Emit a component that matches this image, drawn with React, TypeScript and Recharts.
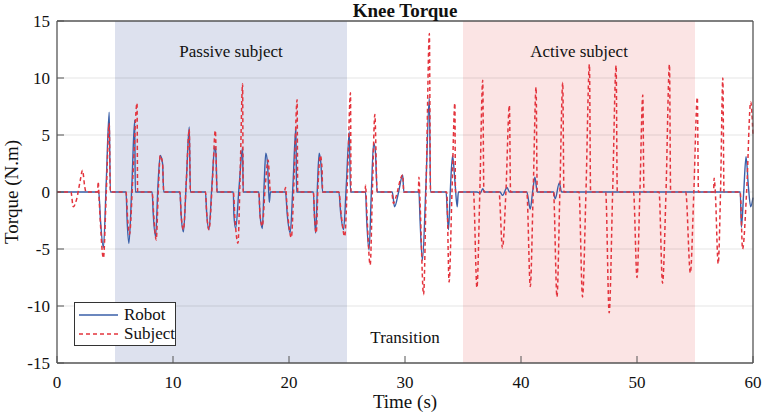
import React from 'react';
import { LineChart, Line, XAxis, YAxis, ReferenceArea, ReferenceLine, Legend } from 'recharts';

const FONT = '"Liberation Serif", "Times New Roman", serif';

const X_TICKS = [0, 10, 20, 30, 40, 50, 60];
const Y_TICKS = [-15, -10, -5, 0, 5, 10, 15];
const GRID_Y = [-10, -5, 0, 5, 10];

const PHASES = [
  { x1: 5, x2: 25, label: 'Passive subject', fill: '#dde1ee', where: 'insideTop' },
  { x1: 25, x2: 35, label: 'Transition', fill: 'none', where: 'insideBottom' },
  { x1: 35, x2: 55, label: 'Active subject', fill: '#fbe4e4', where: 'insideTop' },
];

// [time (s), torque (N.m)]
const ROBOT: [number, number][] = [
  [0, 0], [3.6, 0], [3.75, -2.5], [4.0, -4.9], [4.25, 1], [4.5, 7.0], [4.6, 0],
  [5.95, 0], [6.05, -2.6], [6.2, -4.5], [6.45, 0.5], [6.7, 6.3], [6.75, 0],
  [8.2, 0], [8.3, -2], [8.5, -3.9], [8.7, 0.5], [8.9, 3.2], [9.1, 2.5], [9.2, 0],
  [10.6, 0], [10.7, -2], [10.9, -3.5], [11.15, 1], [11.4, 5.7], [11.5, 0],
  [12.8, 0], [12.9, -1.8], [13.1, -3.3], [13.35, 0.5], [13.6, 4.0], [13.7, 3.4], [13.8, 0],
  [15.2, 0], [15.25, -2], [15.4, -3.2], [15.7, 0.5], [16.0, 3.9], [16.05, 0],
  [17.4, 0], [17.5, -2], [17.7, -3.2], [17.85, 0.5], [18.0, 3.4], [18.15, 2.5], [18.3, -0.9], [18.4, 0],
  [19.7, 0], [19.85, -2], [20.1, -3.6], [20.35, 0.8], [20.6, 5.7], [20.65, 0],
  [22.1, 0], [22.2, -2.2], [22.3, -3.6], [22.45, 0.5], [22.6, 3.4], [22.75, 2.5], [22.9, 0],
  [24.3, 0], [24.45, -1.8], [24.7, -3.3], [24.95, 0.8], [25.2, 5.3], [25.3, 0],
  [26.6, 0], [26.7, -2.5], [26.9, -5.1], [27.1, 0], [27.3, 4.3], [27.45, 3.5], [27.6, 0],
  [28.9, 0], [29.1, -1.3], [29.45, 0], [29.8, 1.5], [29.9, 0],
  [31.2, 0], [31.3, -2.5], [31.5, -6.0], [31.8, 0.5], [32.1, 8.3], [32.2, 0],
  [33.55, 0], [33.65, -2], [33.75, -3.3], [33.9, 0], [34.1, 3.2], [34.3, 1.0], [34.5, -1.3], [34.6, 0],
  [36.2, 0], [36.5, -0.1], [36.7, 0.3], [36.85, 0],
  [38.2, 0], [38.4, -0.3], [38.8, 0.4], [39.0, 0],
  [40.5, 0], [40.8, -1.5], [41.0, 0], [41.2, 1.3], [41.4, 0],
  [42.8, 0], [42.95, -0.6], [43.3, 0.8], [43.5, 0],
  [58.9, 0], [59.0, -3.1], [59.2, 0], [59.4, 3.1], [59.6, 0.5], [59.8, -1.3], [60, -0.5],
];

const SUBJECT: [number, number][] = [
  [0, 0], [1.2, 0], [1.4, -1.3], [1.7, -0.6], [2.0, 1.0], [2.2, 1.9], [2.4, 0.4], [2.5, 0],
  [3.5, 0], [3.55, 0.9], [3.65, -1], [4.0, -5.8], [4.25, 0], [4.5, 6.0], [4.6, 0],
  [5.95, 0], [6.1, -2.5], [6.25, -3.7], [6.55, 1.5], [6.9, 7.8], [6.95, 0],
  [8.2, 0], [8.35, -2.2], [8.55, -4.2], [8.75, 0.5], [8.9, 3.2], [9.1, 2.5], [9.2, 0],
  [10.6, 0], [10.7, -2], [10.9, -3.3], [11.15, 1], [11.4, 5.5], [11.5, 0],
  [12.8, 0], [12.9, -1.8], [13.1, -3.3], [13.4, 1], [13.65, 5.4], [13.8, 0],
  [15.2, 0], [15.35, -2.5], [15.6, -4.5], [15.8, 2], [16.0, 9.5], [16.05, 0],
  [17.4, 0], [17.5, -2], [17.7, -3.0], [17.95, 0.5], [18.2, 2.8], [18.4, 0],
  [19.6, 0], [19.7, 0.4], [19.85, -1.5], [20.2, -4.0], [20.45, 1.5], [20.7, 8.1], [20.75, 0],
  [22.1, 0], [22.2, -2.2], [22.35, -3.6], [22.5, 0.5], [22.7, 3.2], [22.85, 2.0], [22.9, 0],
  [24.3, 0], [24.5, -2], [24.8, -3.9], [25.05, 1.5], [25.3, 8.7], [25.35, 0],
  [26.55, 0], [26.6, 0.6], [26.7, -1.5], [27.0, -6.4], [27.2, 0.5], [27.4, 6.8], [27.6, 0],
  [28.85, 0], [29.0, -1.0], [29.2, -0.5], [29.8, 1.5], [29.9, 0],
  [31.15, 0], [31.2, 1.3], [31.3, -1], [31.6, -9.0], [31.85, 2], [32.1, 13.9], [32.2, 0],
  [33.6, 0], [33.8, -7.9], [34.05, 0], [34.3, 7.8], [34.35, 0],
  [35.9, 0], [36.2, -8.4], [36.45, 0], [36.7, 9.8], [36.8, 0],
  [38.1, 0], [38.4, -4.9], [38.7, 0], [39.0, 7.6], [39.1, 0],
  [40.5, 0], [40.8, -8.3], [41.05, 0], [41.3, 9.2], [41.4, 0],
  [42.8, 0], [43.1, -9.2], [43.35, 0], [43.6, 9.6], [43.7, 0],
  [45.0, 0], [45.3, -9.2], [45.6, 0], [45.9, 11.2], [46.0, 0],
  [47.3, 0], [47.6, -10.6], [47.9, 0], [48.2, 11.1], [48.3, 0],
  [49.7, 0], [50.0, -7.5], [50.25, 0], [50.5, 8.5], [50.6, 0],
  [51.9, 0], [52.2, -8.0], [52.5, 0], [52.8, 11.2], [52.9, 0],
  [54.2, 0], [54.6, -7.1], [54.9, 0], [55.2, 8.3], [55.3, 0],
  [56.6, 0], [56.65, 1.2], [56.75, 0], [57.0, -6.3], [57.2, 0], [57.4, 10.0], [57.5, 0],
  [58.9, 0], [59.1, -5.0], [59.45, 0], [59.8, 7.9], [60, 5.0],
];

const robotData = ROBOT.map(([t, v]) => ({ t, v }));
const subjectData = SUBJECT.map(([t, v]) => ({ t, v }));

const ROBOT_COLOR = '#3a5fa8';
const SUBJECT_COLOR = '#e3343d';
const AXIS_COLOR = '#555';
const TICK_LEN = 7;
const textStyle = { fontFamily: FONT };

// ticks point into the plot, like the original figure
const BottomTick = ({ x, y, payload }: any) => (
  <g>
    <line x1={x} y1={y} x2={x} y2={y - TICK_LEN} stroke={AXIS_COLOR} />
    <text x={x} y={y + 25} textAnchor="middle" fontSize={17} style={textStyle} fill="#111">{payload.value}</text>
  </g>
);
const LeftTick = ({ x, y, payload }: any) => (
  <g>
    <line x1={x} y1={y} x2={x + TICK_LEN} y2={y} stroke={AXIS_COLOR} />
    <text x={x - 7} y={y + 6} textAnchor="end" fontSize={17} style={textStyle} fill="#111">{payload.value}</text>
  </g>
);
const TopTick = ({ x, y }: any) => <line x1={x} y1={y} x2={x} y2={y + TICK_LEN} stroke={AXIS_COLOR} />;
const RightTick = ({ x, y }: any) => <line x1={x} y1={y} x2={x - TICK_LEN} y2={y} stroke={AXIS_COLOR} />;

const YTitle = ({ viewBox }: any) => {
  const cx = viewBox.x - 6;
  const cy = viewBox.y + viewBox.height / 2;
  return (
    <text x={cx} y={cy} transform={`rotate(-90, ${cx}, ${cy})`} textAnchor="middle" dominantBaseline="central"
      fontSize={19} style={textStyle} fill="#111">Torque (N.m)</text>
  );
};

function LegendBox() {
  const rows = [
    { name: 'Robot', color: ROBOT_COLOR, dash: undefined },
    { name: 'Subject', color: SUBJECT_COLOR, dash: '4 3' },
  ];
  return (
    <div style={{ width: 100, height: 42, border: '1px solid #333', background: '#fff', position: 'relative', fontFamily: FONT, fontSize: 17, color: '#111' }}>
      {rows.map((r, i) => (
        <div key={r.name} style={{ position: 'absolute', left: 0, top: 3 + i * 19, height: 18, display: 'flex', alignItems: 'center' }}>
          <svg width={46} height={18}>
            <line x1={4} y1={9} x2={43} y2={9} stroke={r.color} strokeWidth={1.5} strokeDasharray={r.dash} />
          </svg>
          <span style={{ marginLeft: 3, lineHeight: '18px' }}>{r.name}</span>
        </div>
      ))}
    </div>
  );
}

export default function App() {
  return (
    <div style={{ position: 'absolute', left: 0, top: 0, width: 765, height: 417, background: '#fff', fontFamily: FONT }}>
      <LineChart width={765} height={417} margin={{ top: 20, right: 11, bottom: 24, left: 17 }} style={textStyle}>
        <XAxis dataKey="t" type="number" domain={[0, 60]} ticks={X_TICKS} tickSize={0} tickMargin={0} height={30}
          axisLine={{ stroke: AXIS_COLOR, strokeWidth: 1.3 }} tickLine={false} tick={<BottomTick />}
          label={{ value: 'Time (s)', position: 'bottom', offset: 2, fontSize: 19, fontFamily: FONT, fill: '#111' }} />
        <XAxis xAxisId="top" orientation="top" dataKey="t" type="number" domain={[0, 60]} ticks={X_TICKS} tickSize={0} tickMargin={0} height={1}
          axisLine={{ stroke: AXIS_COLOR, strokeWidth: 1.3 }} tickLine={false} tick={<TopTick />}
          label={{ value: 'Knee Torque', position: 'top', offset: 3, fontSize: 19, fontWeight: 'bold', fontFamily: FONT, fill: '#111' }} />
        <YAxis type="number" domain={[-15, 15]} ticks={Y_TICKS} tickSize={0} tickMargin={0} width={40}
          axisLine={{ stroke: AXIS_COLOR, strokeWidth: 1.3 }} tickLine={false} tick={<LeftTick />}
          label={(p: any) => <YTitle {...p} />} />
        <YAxis yAxisId="right" orientation="right" type="number" domain={[-15, 15]} ticks={Y_TICKS} tickSize={0} tickMargin={0} width={1}
          axisLine={{ stroke: AXIS_COLOR, strokeWidth: 1.3 }} tickLine={false} tick={<RightTick />} />
        {PHASES.map((p) => (
          <ReferenceArea key={p.label} x1={p.x1} x2={p.x2} y1={-15} y2={15} fill={p.fill} fillOpacity={1} stroke="none"
            label={{ value: p.label, position: p.where as any, offset: p.where === 'insideTop' ? 24 : 20, fontSize: 17, fontFamily: FONT, fill: '#111' }} />
        ))}
        {GRID_Y.map((y) => (
          <ReferenceLine key={y} y={y} stroke="#000" strokeOpacity={0.1} strokeWidth={1} />
        ))}
        <Line data={robotData} dataKey="v" name="Robot" type="monotone" stroke={ROBOT_COLOR} strokeWidth={1.4}
          dot={false} activeDot={false} isAnimationActive={false} />
        <Line data={subjectData} dataKey="v" name="Subject" type="monotone" stroke={SUBJECT_COLOR} strokeWidth={1.5}
          strokeDasharray="4 3" dot={false} activeDot={false} isAnimationActive={false} />
        <Legend layout="horizontal" verticalAlign="middle" align="center" content={() => <LegendBox />}
          wrapperStyle={{ left: 74, top: 302, width: 102, height: 44 }} />
      </LineChart>
    </div>
  );
}
